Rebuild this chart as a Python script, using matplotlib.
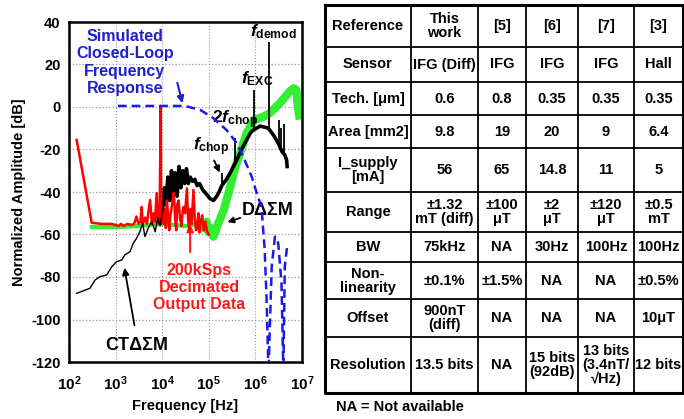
import matplotlib.pyplot as plt
from matplotlib.ticker import LogLocator, NullFormatter

plt.rcParams['font.family'] = ['Liberation Sans', 'DejaVu Sans']
plt.rcParams['font.weight'] = 'bold'
plt.rcParams['mathtext.fontset'] = 'custom'
plt.rcParams['mathtext.rm'] = 'Liberation Sans:bold'
plt.rcParams['mathtext.it'] = 'Liberation Sans:bold:italic'
plt.rcParams['mathtext.bf'] = 'Liberation Sans:bold'

# ---- spectrum data (Hz, dB) ----
red_f = [146, 307, 500, 800, 1000, 1150, 1300, 1500, 1800, 2200, 2500, 2800, 3100,
         3400, 3630, 3800, 4000, 4300, 4700, 5000, 5500, 6000, 6500, 7000, 7600,
         8200, 8800, 9300, 9500, 10000, 10700, 11500, 12000, 12600, 13500, 14200,
         15000, 16500, 17800, 19000, 20000, 20900, 22500, 24000, 26000, 27500,
         29000, 31000, 33900, 36000, 38000, 39800, 43000, 46800, 50000, 53000,
         56000, 60000, 63000, 66000, 72000, 78000, 85000, 91000, 100000]
red_db = [-15.5, -54.5, -55, -55, -55.5, -56, -55, -56, -55, -55.5, -55, -51.5, -55,
          -54, -47, -55, -54, -52, -55, -50, -43.8, -55, -50, -54, -40.5,
          -55, -52, 0.5, -55, -50, -55, -48, -57, -44, -52, -58,
          -51, -45, -40.4, -53, -58, -46, -44, -52, -56, -49,
          -47, -50, -38.3, -53, -58, -48, -55, -39, -52, -58,
          -57, -50, -59, -54.5, -51, -58, -54, -58.5, -60]

ct_low_f = [146, 282, 363, 468, 646, 832, 1050, 1350, 1580, 2040, 2400, 2820,
            3310, 3800, 4270, 5010, 6030, 7080, 8000, 9000, 10000]
ct_low_db = [-87.7, -85.3, -81.4, -79.8, -79, -75.1, -72.8, -72, -69.6, -68.1,
             -64.1, -61.8, -58.7, -54.8, -61, -57, -54, -58.7, -52, -56, -50]

ct_high_f = [10000, 11200, 12000, 13200, 14500, 15800, 17400, 19000, 20900, 22900,
             25100, 27500, 30200, 33100, 36300, 39800, 44700, 50100, 56200, 63100,
             74100, 89100, 105000, 126000, 148000, 166000, 190000, 240000, 288000,
             339000, 398000, 501000, 646000, 794000, 912000, 1260000, 1580000,
             1900000, 2400000, 2820000, 3240000, 3720000, 4270000, 4680000, 4790000]
ct_high_db = [-50, -38, -46, -33, -44, -30, -40, -31, -42, -28,
              -38, -30, -36, -29, -36, -33, -35, -34, -37, -36,
              -39, -41, -43, -44, -42, -40, -37, -34, -31,
              -28, -25, -20, -15.5, -12, -10.8, -9, -9.5,
              -10, -13, -15.5, -18, -21, -22.5, -25, -28]

spike_f = [195000, 372000, 933000, 1950000, 3160000, 3630000, 4170000]
spike_top = [-31, -14.6, 8, 30.7, -6, -10, -8]
spike_base = [-38, -26, -10, -10, -18, -21, -23]

green_flat_f = [309, 1000, 3160, 10000, 31600, 63100, 79400]
green_flat_db = [-56.5, -56.5, -56, -55, -56, -55, -57]
green_rise_f = [79400, 89100, 100000, 112000, 126000, 141000, 158000, 209000,
                288000, 372000, 468000, 646000, 933000, 1480000, 2000000, 3310000,
                5370000, 6610000, 7590000, 8130000, 8710000]
green_rise_db = [-57, -54, -59, -57, -61, -58, -55, -48.5, -37.5, -28, -21.8,
                 -12.4, -6.1, -4.6, -3, 1.7, 7.2, 8.8, 8, 0, -4]

sim_f = [1120, 30900, 66100, 126000, 240000, 398000, 589000, 832000, 1070000,
         1350000, 1580000, 1740000, 1910000, 2240000, 2630000, 3090000, 3630000,
         3980000, 4270000, 4790000]
sim_db = [0.5, 0.5, -1.4, -5.3, -10.8, -17, -25, -32.8, -40.6,
          -46.9, -67, -90.8, -125, -75, -61, -64, -83, -125, -75, -65.7]

x_ticks = [1e2, 1e3, 1e4, 1e5, 1e6, 1e7]
x_ticklabels = [r'$\mathrm{10^{%d}}$' % e for e in range(2, 8)]
y_ticks = [-120, -100, -80, -60, -40, -20, 0, 20, 40]

# ---- comparison table ----
row_heads = ['Reference', 'Sensor', 'Tech. [\u03bcm]', 'Area [mm2]', 'I_supply\n[mA]',
             'Range', 'BW', 'Non-\nlinearity', 'Offset', 'Resolution']
col_this = ['This\nwork', 'IFG (Diff)', '0.6', '9.8', '56', '\u00b11.32\nmT (diff)',
            '75kHz', '\u00b10.1%', '900nT\n(diff)', '13.5 bits']
col_5 = ['[5]', 'IFG', '0.8', '19', '65', '\u00b1100\n\u03bcT', 'NA', '\u00b11.5%',
         'NA', 'NA']
col_6 = ['[6]', 'IFG', '0.35', '20', '14.8', '\u00b12\n\u03bcT', '30Hz', 'NA', 'NA',
         '15 bits\n(92dB)']
col_7 = ['[7]', 'IFG', '0.35', '9', '11', '\u00b1120\n\u03bcT', '100Hz', 'NA', 'NA',
         '13 bits\n(3.4nT/\n\u221aHz)']
col_3 = ['[3]', 'Hall', '0.35', '6.4', '5', '\u00b10.5\nmT', '100Hz', '\u00b10.5%',
         '10\u03bcT', '12 bits']

col_edges = [325, 411, 478, 526, 578, 634, 683]
row_edges = [5, 47, 82, 115, 148, 192, 232, 262, 299, 337, 393]

fig = plt.figure(figsize=(6.84, 4.19), dpi=100)

tab = fig.add_axes([0, 0, 1, 1])
tab.set_xlim(0, 684)
tab.set_ylim(419, 0)
tab.axis('off')
for xe in col_edges[1:-1]:
    tab.plot([xe, xe], [row_edges[0], row_edges[-1]], color='black', lw=1.3)
for ye in row_edges[1:-1]:
    tab.plot([col_edges[0], col_edges[-1]], [ye, ye], color='black', lw=1.3)
tab.plot([col_edges[0], col_edges[-1], col_edges[-1], col_edges[0], col_edges[0]],
         [row_edges[0], row_edges[0], row_edges[-1], row_edges[-1], row_edges[0]],
         color='black', lw=2.2)
columns = [row_heads, col_this, col_5, col_6, col_7, col_3]
for ci, col in enumerate(columns):
    xc = (col_edges[ci] + col_edges[ci + 1]) / 2
    for ri, txt in enumerate(col):
        yc = (row_edges[ri] + row_edges[ri + 1]) / 2
        tab.text(xc, yc, txt, ha='center', va='center', fontsize=10.5,
                 fontweight='bold', linespacing=1.0)
tab.text(336, 407, 'NA = Not available', ha='left', va='center', fontsize=10.5,
         fontweight='bold')

# ---- spectrum plot ----
ax = fig.add_axes([69 / 684, 57 / 419, 233 / 684, 340 / 419])
ax.set_xscale('log')
ax.set_xlim(1e2, 1e7)
ax.set_ylim(-120, 40)

ax.plot(green_flat_f, green_flat_db, color='#33ee33', lw=3, zorder=2)
ax.plot(green_rise_f, green_rise_db, color='#33ee33', lw=6, zorder=2,
        solid_joinstyle='round')
ax.plot(ct_high_f, ct_high_db, color='black', lw=2.6, zorder=3)
ax.vlines(spike_f, spike_base, spike_top, color='black', lw=1.3, zorder=3)
ax.plot(red_f, red_db, color='#ff0000', lw=1.8, zorder=4)
ax.plot(ct_low_f, ct_low_db, color='black', lw=1.0, zorder=5)
ax.plot(sim_f, sim_db, color='#1a1aee', lw=1.8, ls=(0, (3.5, 2)), zorder=6)

ax.set_xticks(x_ticks)
ax.set_xticklabels(x_ticklabels, fontsize=11)
ax.xaxis.set_minor_locator(LogLocator(base=10, subs=range(2, 10)))
ax.xaxis.set_minor_formatter(NullFormatter())
ax.set_yticks(y_ticks)
ax.set_yticklabels([str(v) for v in y_ticks], fontsize=10.5, fontweight='bold')
ax.tick_params(which='both', length=0)
ax.tick_params(axis='x', pad=9)
ax.tick_params(axis='y', pad=6)
ax.grid(which='both', axis='x', ls=':', color='#999999', lw=0.8)
ax.grid(which='major', axis='y', ls=':', color='#999999', lw=0.9)
for sp in ax.spines.values():
    sp.set_linewidth(1.8)

ax.set_xlabel('Frequency [Hz]', fontsize=10.5, fontweight='bold', labelpad=4)
ax.set_ylabel('Normalized Amplitude [dB]', fontsize=10.5, fontweight='bold', labelpad=4)

ax.text(1585, 21, 'Simulated\nClosed-Loop\nFrequency\nResponse', color='#2020cc',
        fontsize=11.5, fontweight='bold', ha='center', va='center', linespacing=1.2)
ax.annotate('', xy=(28100, 0.5), xytext=(20400, 12.7),
            arrowprops=dict(arrowstyle='-|>', color='#2020cc', lw=1.5, mutation_scale=10))
ax.text(7.6e5, 33.4, r'$f_{\mathrm{demod}}$', fontsize=12.5, ha='left', va='baseline')
ax.text(4.9e5, 11.3, r'$f_{\mathrm{EXC}}$', fontsize=12.5, ha='left', va='baseline')
ax.text(1.17e5, -7.5, r'$\mathrm{2}f_{\mathrm{chop}}$', fontsize=12.5, ha='left', va='baseline')
ax.text(4.59e4, -20.2, r'$f_{\mathrm{chop}}$', fontsize=12.5, ha='left', va='baseline')
ax.annotate('', xy=(1.82e5, -32), xytext=(1.23e5, -24),
            arrowprops=dict(arrowstyle='-|>', color='black', lw=1.3, mutation_scale=9))
ax.text(5.1e5, -48.8, 'D\u0394\u03a3M', fontsize=13, fontweight='bold', ha='left', va='center')
ax.annotate('', xy=(2.2e5, -54.6), xytext=(5.4e5, -51.8),
            arrowprops=dict(arrowstyle='-|>', color='black', lw=1.3, mutation_scale=9))
ax.text(61700, -85, '200kSps\nDecimated\nOutput Data', color='#ff1a1a', fontsize=11.5,
        fontweight='bold', ha='center', va='center', linespacing=1.15)
ax.annotate('', xy=(39800, -54), xytext=(39800, -69.6),
            arrowprops=dict(arrowstyle='-|>', color='#ff1a1a', lw=1.5, mutation_scale=10))
ax.text(2820, -112, 'CT\u0394\u03a3M', fontsize=13, fontweight='bold', ha='center', va='center')
ax.annotate('', xy=(1510, -74.4), xytext=(2600, -104),
            arrowprops=dict(arrowstyle='-|>', color='black', lw=1.3, mutation_scale=10))

fig.savefig('out.png', dpi=100)
